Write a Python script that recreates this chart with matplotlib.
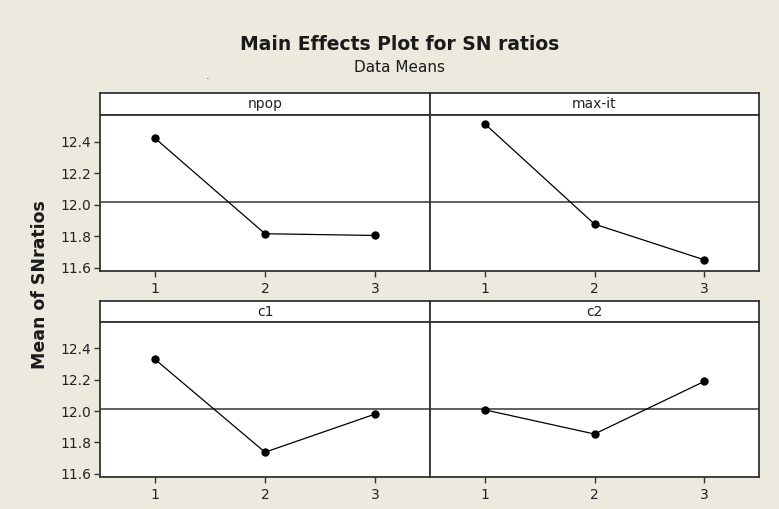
import matplotlib
matplotlib.use("Agg")
import matplotlib.pyplot as plt
import numpy as np

# level means
levels = [1, 2, 3]
factors = ["npop", "max-it", "c1", "c2"]
npop = [12.421, 11.816, 11.805]
max_it = [12.512, 11.877, 11.651]
c1 = [12.330, 11.738, 11.981]
c2 = [12.008, 11.854, 12.189]
yticks = [11.6, 11.8, 12.0, 12.2, 12.4]

means = [npop, max_it, c1, c2]
grand_mean = np.mean(means)

W, H = 779, 509
bg = "#ECE9DF"
edge = "#333333"
fig = plt.figure(figsize=(W / 100, H / 100), dpi=100, facecolor=bg)

def box(x0, x1, y0, y1):
    # pixel box (top-left origin) to figure fractions
    return [x0 / W, 1 - y1 / H, (x1 - x0) / W, (y1 - y0) / H]

cols = [(100, 430), (430, 759)]
rows = [(93, 115, 271), (301, 322, 477)]

for i, name in enumerate(factors):
    r, c = divmod(i, 2)
    x0, x1 = cols[c]
    st, pt, pb = rows[r]

    # strip header
    sax = fig.add_axes(box(x0, x1, st, pt))
    sax.set_xticks([])
    sax.set_yticks([])
    sax.set_facecolor("white")
    for s in sax.spines.values():
        s.set_color(edge)
        s.set_linewidth(1.3)
    sax.text(0.5, 0.5, name, ha="center", va="center", fontsize=10,
             color="#222222", transform=sax.transAxes)

    ax = fig.add_axes(box(x0, x1, pt, pb))
    ax.set_facecolor("white")
    ax.plot(levels, means[i], color="black", lw=0.9, marker="o",
            markersize=5, zorder=3)
    ax.axhline(grand_mean, color="#444444", lw=1.2, zorder=2)
    ax.set_xlim(0.5, 3.5)
    ax.set_ylim(11.58, 12.568)
    ax.set_xticks(levels)
    ax.set_xticklabels([str(v) for v in levels], fontsize=10, color="#222222")
    ax.set_yticks(yticks)
    if c == 0:
        ax.set_yticklabels([f"{v:.1f}" for v in yticks], fontsize=10,
                           color="#222222")
        ax.tick_params(axis="y", direction="out", length=4, width=1,
                       color=edge, pad=2)
    else:
        ax.tick_params(axis="y", left=False, labelleft=False)
    ax.tick_params(axis="x", direction="out", length=4, width=1,
                   color=edge, pad=4)
    for s in ax.spines.values():
        s.set_color(edge)
        s.set_linewidth(1.3)

fig.text(400 / W, 1 - 45 / H, "Main Effects Plot for SN ratios",
         ha="center", va="center", fontsize=13.5, fontweight="bold",
         color="#1a1a1a")
fig.text(400 / W, 1 - 68 / H, "Data Means", ha="center", va="center",
         fontsize=11, color="#1a1a1a")
fig.text(40 / W, 1 - 285 / H, "Mean of SNratios", ha="center", va="center",
         rotation=90, fontsize=12.5, fontweight="bold", color="#1a1a1a")
fig.text(208 / W, 1 - 76 / H, ".", ha="center", va="center", fontsize=8,
         color="#444444")

fig.savefig("out.png", dpi=100, facecolor=bg)
